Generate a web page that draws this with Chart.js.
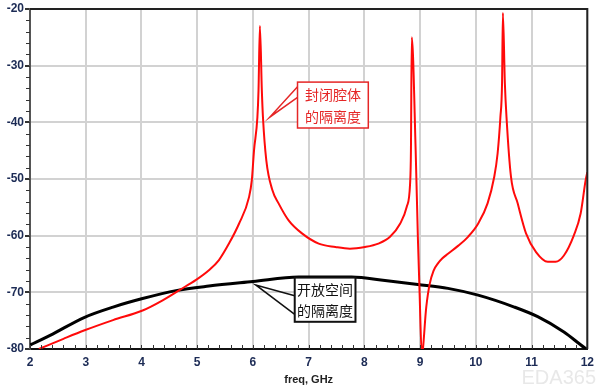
<!DOCTYPE html>
<html>
<head>
<meta charset="utf-8">
<script src="https://cdn.jsdelivr.net/npm/chart.js@4/dist/chart.umd.min.js"></script>
<style>
html,body{margin:0;padding:0;background:#fff;}
#wrap{width:600px;height:387px;position:relative;}
</style>
</head>
<body>
<div id="wrap"><canvas id="chartIso" width="600" height="387"></canvas></div>
<script>
// freq (GHz) / isolation (dB)
const redFreq = [2.16,2.6,2.98,3.49,4.02,4.38,4.68,4.98,5.21,5.39,5.57,5.75,5.93,5.98,6.02,6.08,6.1,6.125,6.16,6.18,6.24,6.35,6.46,6.64,6.88,7.18,7.48,7.74,8.01,8.25,8.46,8.64,8.76,8.82,8.835,8.85,8.92,8.96,8.99,9.03,9.11,9.17,9.24,9.32,9.4,9.5,9.68,9.86,10.04,10.21,10.33,10.39,10.44,10.47,10.485,10.52,10.55,10.63,10.75,10.9,11.08,11.29,11.43,11.58,11.76,11.88,11.97,12.0];
const redIso = [-80,-78.2,-76.7,-74.9,-73.2,-71.4,-69.6,-67.8,-66.1,-64.3,-61.4,-57.9,-53.2,-50.2,-44.9,-39.1,-34.4,-23,-34.4,-39.1,-46.7,-52,-54.3,-57.3,-59.6,-61.4,-62,-62.3,-62,-61.4,-60.2,-57.9,-54.9,-50.8,-45,-25,-45,-60.5,-70,-81,-72.6,-68.6,-66.2,-64.9,-64.0,-63.2,-61.8,-60.2,-57.9,-54.3,-49.6,-45.5,-39.1,-33,-20.7,-33,-39.1,-49.6,-54.3,-59.6,-62.9,-64.6,-64.6,-63.5,-59.9,-56.1,-50.2,-48.8];

const blackFreq = [2.0,2.36,2.98,3.49,4.02,4.62,5.21,6.0,6.82,7.18,7.77,8.37,8.96,9.5,10.04,10.69,11.11,11.58,11.94,12.0];
const blackIso = [-79.3,-77.6,-74.4,-72.6,-71.1,-69.7,-68.9,-68.1,-67.3,-67.3,-67.3,-67.9,-68.6,-69.3,-70.5,-72.6,-74.3,-77,-79.7,-80.1];

const xTicks = [2,3,4,5,6,7,8,9,10,11,12];
const yTicks = [-80,-70,-60,-50,-40,-30,-20];

const redLabel = ["封闭腔体","的隔离度"];
const blackLabel = ["开放空间","的隔离度"];

function pts(xs,ys){ return xs.map((x,i)=>({x:x,y:ys[i]})); }

const tickColor = "#1c2b55";

// minor ticks, frame and the two callouts
const extras = {
  id:"extras",
  afterDatasetsDraw(chart){
    const ctx = chart.ctx, a = chart.chartArea;
    const xs = chart.scales.x, ys = chart.scales.y;
    ctx.save();
    // minor ticks
    ctx.strokeStyle = "#333";
    ctx.lineWidth = 1;
    ctx.beginPath();
    for(let v=2; v<=12.001; v+=0.2){
      const px = Math.round(xs.getPixelForValue(v))+0.5;
      ctx.moveTo(px,a.bottom); ctx.lineTo(px,a.bottom-4);
    }
    for(let v=-80; v<=-20.001; v+=2){
      const py = Math.round(ys.getPixelForValue(v))+0.5;
      ctx.moveTo(a.left,py); ctx.lineTo(a.left-4,py);
    }
    ctx.stroke();
    // frame top / right
    ctx.strokeStyle = "#222";
    ctx.lineWidth = 2;
    ctx.beginPath();
    ctx.moveTo(a.left,a.top); ctx.lineTo(a.right,a.top); ctx.lineTo(a.right,a.bottom);
    ctx.stroke();

    // callouts
    function callout(tipF,tipD,boxF0,boxD0,boxF1,boxD1,lines,color,y0,y1){
      const tx = xs.getPixelForValue(tipF), ty = ys.getPixelForValue(tipD);
      const bx0 = xs.getPixelForValue(boxF0), by0 = ys.getPixelForValue(boxD0);
      const bx1 = xs.getPixelForValue(boxF1), by1 = ys.getPixelForValue(boxD1);
      ctx.strokeStyle = color==="#e52626" ? "#e52626" : "#111";
      ctx.lineWidth = 1.5;
      ctx.beginPath();
      ctx.moveTo(bx0, ys.getPixelForValue(y0)); ctx.lineTo(tx,ty); ctx.lineTo(bx0, ys.getPixelForValue(y1));
      ctx.stroke();
      ctx.fillStyle = "#fff";
      ctx.fillRect(bx0,by0,bx1-bx0,by1-by0);
      ctx.lineWidth = color==="#e52626" ? 1.5 : 2;
      ctx.strokeRect(bx0,by0,bx1-bx0,by1-by0);
      ctx.fillStyle = color;
      ctx.font = '14px "Noto Sans CJK SC"';
      ctx.textAlign = "center";
      ctx.textBaseline = "middle";
      const cx = (bx0+bx1)/2, h = by1-by0;
      ctx.fillText(lines[0], cx, by0+h*0.27);
      ctx.fillText(lines[1], cx, by0+h*0.75);
    }
    ctx.restore();
    ctx.save();
    callout(6.3,-39.1, 6.8,-32.9, 8.07,-41.0, redLabel, "#e52626", -33.7,-35.6);
    callout(6.05,-68.7, 6.75,-67.4, 7.84,-75.2, blackLabel, "#111", -70.6,-73.9);
    // watermark
    ctx.fillStyle = "rgba(190,190,190,0.35)";
    ctx.font = '20px "Liberation Sans"';
    ctx.textAlign = "right";
    ctx.textBaseline = "alphabetic";
    ctx.fillText("EDA365", 596, 384);
    ctx.restore();
  }
};

new Chart(document.getElementById("chartIso"),{
  type:"line",
  data:{
    datasets:[
      {data:pts(redFreq,redIso),borderColor:"#ff0a0a",borderWidth:2,pointRadius:0,fill:false,cubicInterpolationMode:"monotone"},
      {data:pts(blackFreq,blackIso),borderColor:"#000",borderWidth:3,pointRadius:0,fill:false,cubicInterpolationMode:"monotone"}
    ]
  },
  options:{
    responsive:false,
    animation:false,
    layout:{padding:{top:9,right:9,left:0,bottom:0}},
    plugins:{legend:{display:false},tooltip:{enabled:false}},
    scales:{
      x:{
        type:"linear",min:2,max:12,
        afterBuildTicks(s){ s.ticks = xTicks.map(v=>({value:v})); },
        afterFit(s){ s.height = 38; },
        grid:{color:"#d2d2d2",lineWidth:2,drawTicks:false},
        border:{color:"#111",width:2},
        ticks:{color:tickColor,font:{family:"Liberation Sans",size:12,weight:"bold"},padding:6,maxRotation:0},
        title:{display:true,text:"freq, GHz",color:"#222",font:{family:"Liberation Sans",size:11,weight:"bold"},padding:{top:3,bottom:0}}
      },
      y:{
        min:-80,max:-20,
        afterBuildTicks(s){ s.ticks = yTicks.map(v=>({value:v})); },
        afterFit(s){ s.width = 30; },
        grid:{color:"#d2d2d2",lineWidth:2,tickLength:5,tickColor:"#333"},
        border:{color:"#555",width:2},
        ticks:{color:tickColor,font:{family:"Liberation Sans",size:12,weight:"bold"},padding:1}
      }
    }
  },
  plugins:[extras]
});
</script>
</body>
</html>
